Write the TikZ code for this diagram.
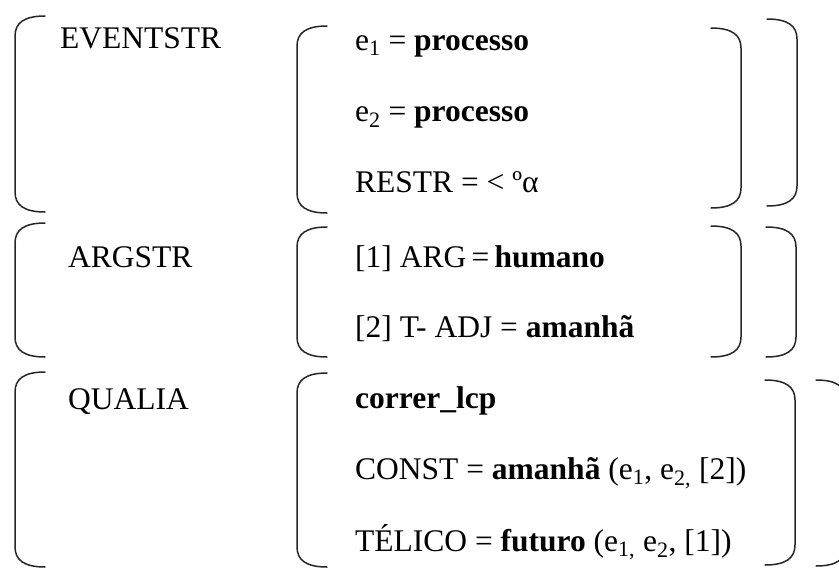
\documentclass[tikz,border=0pt]{standalone}
\usepackage{fontspec}
\setmainfont{Liberation Serif}
\begin{document}
\begin{tikzpicture}[x=1pt,y=-1pt,
  brk/.style={line width=1.5pt,draw=black!85,line cap=round},
  lbl/.style={anchor=base west,inner sep=0pt,font=\fontsize{31.5}{36}\selectfont}]
\useasboundingbox (0,0) rectangle (839,570);
\clip (0,0) rectangle (839,570);
% opening bracket: x, top, bottom
\newcommand\openbr[3]{%
  \draw[brk] ({#1+30},#2) .. controls ({#1+9},#2) and (#1,{#2+7}) .. (#1,{#2+20})
    -- (#1,{#3-20}) .. controls (#1,{#3-7}) and ({#1+9},#3) .. ({#1+30},#3);}
% closing bracket: x, top, bottom
\newcommand\closebr[3]{%
  \draw[brk] ({#1-30},#2) .. controls ({#1-9},#2) and (#1,{#2+7}) .. (#1,{#2+20})
    -- (#1,{#3-20}) .. controls (#1,{#3-7}) and ({#1-9},#3) .. ({#1-30},#3);}

% feature names
\node[lbl] (ev) at (60,48) {EVENTSTR};
\node[lbl] (ar) at (68,267) {ARGSTR};
\node[lbl] (qu) at (68,409) {QUALIA};

% event structure
\node[lbl] (e1) at (355,50) {e\textsubscript{1} = \textbf{processo}};
\node[lbl] (e2) at (355,121) {e\textsubscript{2} = \textbf{processo}};
\node[lbl] (rs) at (355,192) {RESTR = < ºα};

% argument structure
\node[lbl] (a1) at (355,267) {[1] ARG\,=\,\textbf{humano}};
\node[lbl] (a2) at (355,337) {[2] T- ADJ = \textbf{amanhã}};

% qualia structure
\node[lbl] (q0) at (355,408) {\textbf{correr\_lcp}};
\node[lbl] (q1) at (355,479) {CONST = \textbf{amanhã} (e\textsubscript{1}, e\textsubscript{2,} [2])};
\node[lbl] (q2) at (355,551) {TÉLICO = \textbf{futuro} (e\textsubscript{1,} e\textsubscript{2}, [1])};

% outer brackets
\openbr{15}{16}{212}
\openbr{15}{223}{357}
\openbr{15}{372}{567}
\closebr{797}{19}{206}
\closebr{796}{227}{357}
\closebr{846}{380}{566}

% inner brackets
\openbr{297}{26}{213}
\openbr{297}{227}{357}
\openbr{297}{373}{567}
\closebr{741}{28}{208}
\closebr{741}{226}{357}
\closebr{795}{380}{565}
\end{tikzpicture}
\end{document}
